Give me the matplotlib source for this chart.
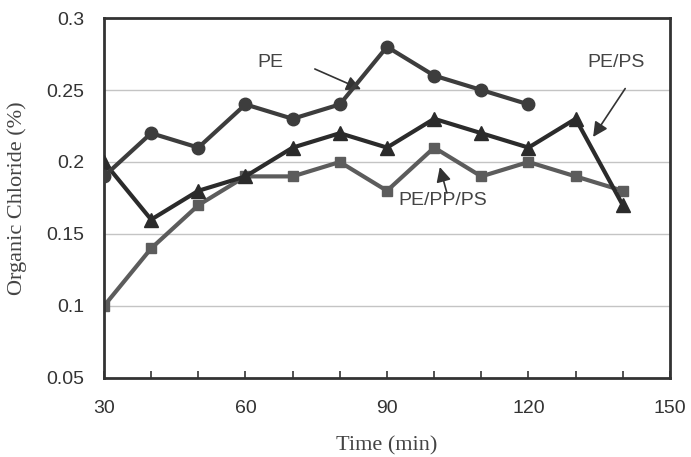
import matplotlib
matplotlib.use("Agg")
import matplotlib.pyplot as plt
from matplotlib.ticker import MultipleLocator, FixedLocator

time_pe = [30, 40, 50, 60, 70, 80, 90, 100, 110, 120]
pe = [0.19, 0.22, 0.21, 0.24, 0.23, 0.24, 0.28, 0.26, 0.25, 0.24]

time_mix = [30, 40, 50, 60, 70, 80, 90, 100, 110, 120, 130, 140]
pe_ps = [0.20, 0.16, 0.18, 0.19, 0.21, 0.22, 0.21, 0.23, 0.22, 0.21, 0.23, 0.17]
pe_pp_ps = [0.10, 0.14, 0.17, 0.19, 0.19, 0.20, 0.18, 0.21, 0.19, 0.20, 0.19, 0.18]

x_ticks = [30, 60, 90, 120, 150]
y_ticks = [0.05, 0.1, 0.15, 0.2, 0.25, 0.3]
y_tick_labels = ["0.05", "0.1", "0.15", "0.2", "0.25", "0.3"]

fig = plt.figure(figsize=(6.91, 4.57), dpi=100)
ax = fig.add_axes([0.1505, 0.1729, 0.8191, 0.7877])

ax.set_xlim(30, 150)
ax.set_ylim(0.05, 0.3)

for y in y_ticks[1:-1]:
    ax.axhline(y, color="#c4c4c4", lw=1.0, zorder=0)

ax.plot(time_mix, pe_pp_ps, color="#5c5c5c", lw=3, marker="s", ms=7, zorder=2)
ax.plot(time_mix, pe_ps, color="#2b2b2b", lw=3, marker="^", ms=10, zorder=3)
ax.plot(time_pe, pe, color="#3d3d3d", lw=3, marker="o", ms=9, zorder=4)

ax.xaxis.set_major_locator(FixedLocator(x_ticks))
ax.xaxis.set_minor_locator(MultipleLocator(10))
ax.set_yticks(y_ticks)
ax.set_yticklabels(y_tick_labels)

sans = "Liberation Sans"
serif = "Liberation Serif"
for lab in ax.get_xticklabels() + ax.get_yticklabels():
    lab.set_fontfamily(sans)
    lab.set_fontsize(14)
    lab.set_color("#333333")

ax.tick_params(axis="x", which="both", direction="in", length=5, width=1.2,
               color="#333333", pad=16)
ax.tick_params(axis="y", which="both", length=0, pad=14)

for s in ax.spines.values():
    s.set_linewidth(2)
    s.set_color("#333333")

ax.set_ylabel("Organic Chloride (%)", fontfamily=serif, fontsize=16,
              color="#444444", labelpad=14)
ax.set_xlabel("Time (min)", fontfamily=serif, fontsize=16, color="#444444",
              labelpad=14)

arrow = dict(arrowstyle="-|>", color="#333333", lw=1.2, mutation_scale=22,
             shrinkA=0, shrinkB=0)
txt = dict(fontsize=14, fontfamily=sans, color="#444444", ha="center", va="center")

ax.text(65.2, 0.269, "PE", **txt)
ax.annotate("", xy=(84.5, 0.2505), xytext=(74.7, 0.2646), arrowprops=arrow)

ax.text(138.5, 0.269, "PE/PS", **txt)
ax.annotate("", xy=(133.7, 0.2174), xytext=(140.5, 0.251), arrowprops=arrow)

ax.text(101.9, 0.1736, "PE/PP/PS", **txt)
ax.annotate("", xy=(101.2, 0.1965), xytext=(102.7, 0.1785), arrowprops=arrow)

fig.savefig("out.png", dpi=100, facecolor="white")
